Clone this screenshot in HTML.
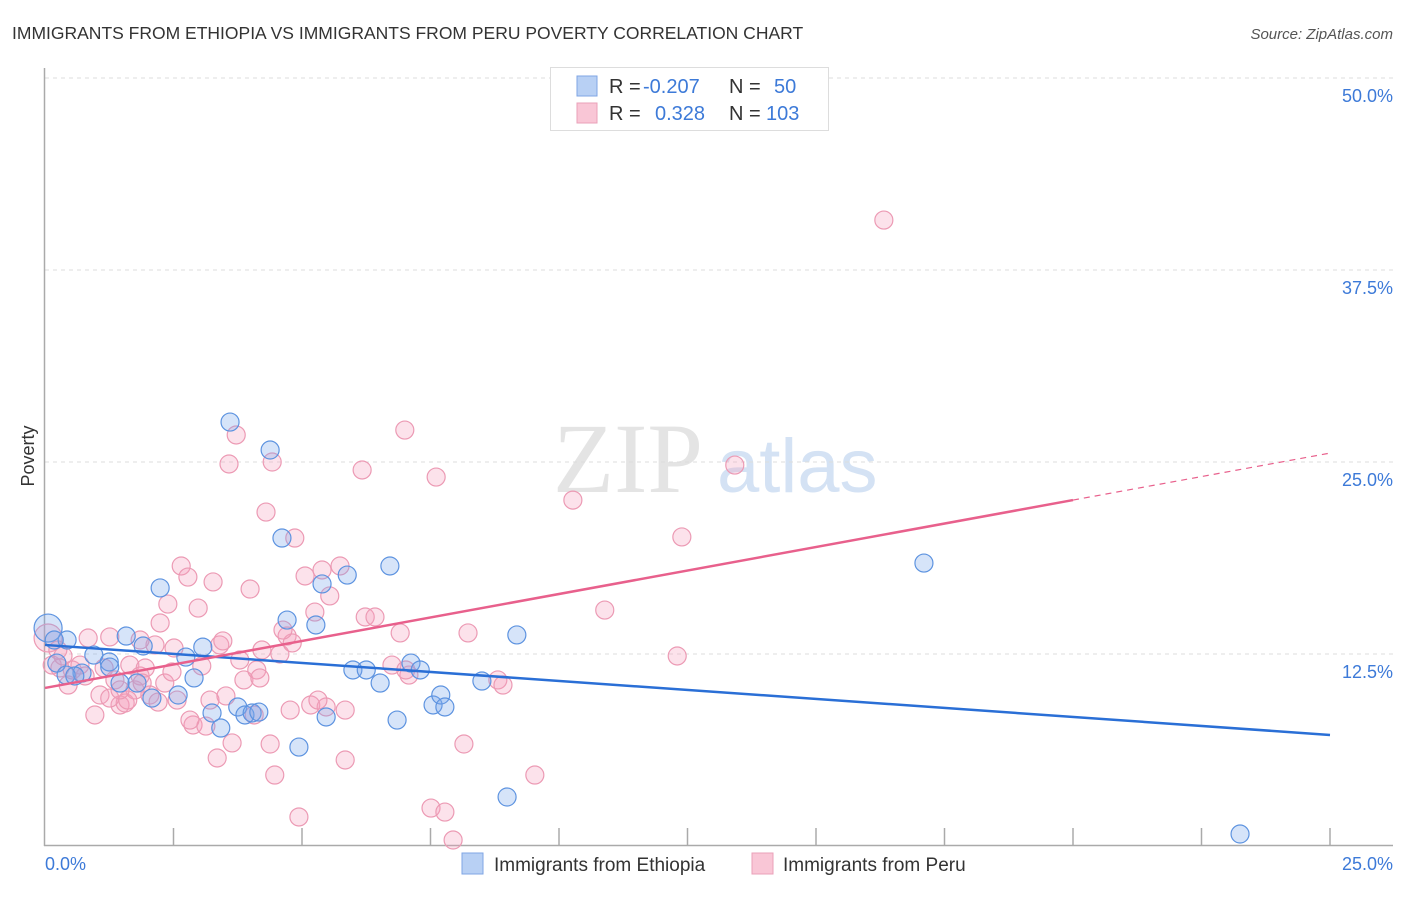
<!DOCTYPE html>
<html><head><meta charset="utf-8"><style>
body{margin:0;background:#fff;width:1406px;height:892px;overflow:hidden;font-family:"Liberation Sans",sans-serif}
</style></head><body>
<svg width="1406" height="892" xmlns="http://www.w3.org/2000/svg" id="chart">
<text x="12" y="39" font-size="17.5" fill="#333">IMMIGRANTS FROM ETHIOPIA VS IMMIGRANTS FROM PERU POVERTY CORRELATION CHART</text>
<text x="1393" y="39" font-size="15" font-style="italic" fill="#555" text-anchor="end">Source: ZipAtlas.com</text>
<g>
<text x="553" y="492" font-size="100" font-family="Liberation Serif,serif" fill="#e4e4e4">ZIP</text>
<text x="717" y="492" font-size="76" fill="#d4e2f4">atlas</text>
</g>
<text transform="translate(34,456) rotate(-90)" font-size="18" fill="#333" text-anchor="middle">Poverty</text>
<g id="grid"></g>
<g id="marks"></g>
<g>
<rect x="550.5" y="67.5" width="278" height="63" fill="#fff" stroke="#ddd"/>
<rect x="577" y="76" width="20" height="20" fill="#b8d0f4" stroke="#7fa6e4"/>
<rect x="577" y="103" width="20" height="20" fill="#f9c6d6" stroke="#eaa0b8"/>
<text x="609" y="93" font-size="20" fill="#333">R =</text>
<text x="643" y="93" font-size="20" fill="#3d7ad8">-0.207</text>
<text x="729" y="93" font-size="20" fill="#333">N =</text>
<text x="774" y="93" font-size="20" fill="#3d7ad8">50</text>
<text x="609" y="120" font-size="20" fill="#333">R =</text>
<text x="655" y="120" font-size="20" fill="#3d7ad8">0.328</text>
<text x="729" y="120" font-size="20" fill="#333">N =</text>
<text x="766" y="120" font-size="20" fill="#3d7ad8">103</text>
</g>
<g>
<rect x="462" y="853" width="21" height="21" fill="#b8d0f4" stroke="#7fa6e4"/>
<text x="494" y="871" font-size="19" fill="#333">Immigrants from Ethiopia</text>
<rect x="752" y="853" width="21" height="21" fill="#f9c6d6" stroke="#eaa0b8"/>
<text x="783" y="871" font-size="19" fill="#333">Immigrants from Peru</text>
</g>
</svg>
<script>
const yTicks=[12.5,25.0,37.5,50.0];
const xTickLabels=["0.0%","25.0%"];
const ethX=[0.06,0.43,0.23,0.72,0.95,1.25,1.58,1.91,1.79,2.08,2.24,2.59,2.74,2.90,3.07,3.25,3.42,3.60,3.75,3.89,4.03,4.16,4.38,4.61,4.71,4.94,5.27,5.39,5.47,5.88,5.99,6.25,6.52,6.71,6.85,7.12,7.30,7.55,7.70,7.78,8.50,8.99,9.18,17.10,23.25,0.41,0.58,0.18,1.26,1.46];
const ethY=[14.19,13.41,11.91,11.26,12.43,11.98,13.67,13.02,10.61,9.63,16.80,9.83,12.30,10.94,12.95,8.66,7.68,27.60,9.05,8.53,8.66,8.72,25.78,20.05,14.71,6.44,14.39,17.06,8.40,17.64,11.46,11.46,10.61,18.23,8.20,11.91,11.46,9.18,9.83,9.05,10.74,3.19,13.74,18.42,0.78,11.13,11.07,13.41,11.65,10.61];
const peruX=[0.06,0.14,0.29,0.45,0.53,0.68,0.84,0.97,1.07,1.15,1.26,1.36,1.46,1.56,1.65,1.75,1.85,1.95,2.04,2.14,2.24,2.33,2.39,2.47,2.57,2.65,2.78,2.88,2.98,3.05,3.13,3.21,3.27,3.35,3.40,3.46,3.52,3.64,3.72,3.58,3.79,3.87,3.99,4.07,4.12,4.18,4.30,4.38,4.42,4.47,4.57,4.71,4.77,4.81,4.86,4.94,5.06,5.17,5.25,5.39,5.47,5.54,5.74,5.84,5.84,6.17,6.23,6.42,6.75,6.91,7.00,7.08,7.02,7.51,7.61,7.78,7.94,8.15,8.23,8.81,8.91,9.53,10.27,10.89,12.30,12.39,13.42,16.32,0.25,0.35,0.78,1.61,1.89,2.20,2.51,2.82,4.22,4.63,5.31,1.85,1.26,1.46];
const peruY=[13.54,11.78,11.59,10.48,11.46,11.78,13.54,8.53,9.83,11.59,13.61,10.81,9.18,9.31,11.78,10.16,11.07,11.59,9.83,13.09,14.52,10.61,15.75,11.33,9.50,18.23,17.51,7.88,15.49,11.72,7.81,9.50,17.19,5.73,13.09,13.35,9.77,6.71,26.76,24.87,12.11,10.81,16.73,8.53,11.46,10.94,21.74,6.64,25.00,4.62,12.50,13.67,8.85,13.22,20.05,1.89,17.58,9.18,15.23,17.97,9.05,16.28,18.23,8.85,5.60,24.48,14.91,14.91,11.78,13.87,27.08,11.13,11.46,2.47,24.02,2.21,0.39,6.64,13.87,10.81,10.48,4.62,22.52,15.36,12.37,20.12,24.80,40.75,12.76,12.37,11.07,9.50,10.61,9.37,12.89,8.20,12.76,14.06,9.50,13.41,9.63,10.16];
const ethTrend=[13.09,7.23];
const peruTrend=[10.29,25.58];
const peruSolidEnd=20.0;
const X0=45,X1=1330,Y0=846,PXPER=192/12.5;
const sx=v=>X0+(v/25)*(X1-X0);
const sy=v=>Y0-v*PXPER;
const NS="http://www.w3.org/2000/svg";
const grid=document.getElementById('grid'),marks=document.getElementById('marks');
function mk(tag,attrs,parent){const e=document.createElementNS(NS,tag);for(const k in attrs)e.setAttribute(k,attrs[k]);parent.appendChild(e);return e;}
yTicks.forEach(t=>{
 const l=mk('line',{x1:45,x2:1393,y1:sy(t),y2:sy(t),stroke:'#ddd','stroke-dasharray':'4,4'},grid);
 
 
 const tx=mk('text',{x:1393,y:sy(t)+24,'font-size':18,fill:'#3d7ad8','text-anchor':'end'},grid);
 tx.textContent=t.toFixed(1)+'%';
 
 
});
const ax=mk('line',{x1:44.5,x2:44.5,y1:68,y2:846,stroke:'#aaa','stroke-width':1.5},grid);


const bx=mk('line',{x1:44,x2:1393,y1:845.5,y2:845.5,stroke:'#aaa','stroke-width':1.5},grid);


for(let i=1;i<=10;i++){
 const tk=mk('line',{x1:sx(i*2.5),x2:sx(i*2.5),y1:828,y2:846,stroke:'#aaa','stroke-width':1.5},grid);
 
 
}
const xl0=mk('text',{x:45,y:870,'font-size':18,fill:'#3d7ad8'},grid);xl0.textContent=xTickLabels[0];


const xl1=mk('text',{x:1393,y:870,'font-size':18,fill:'#3d7ad8','text-anchor':'end'},grid);xl1.textContent=xTickLabels[1];


function pts(xs,ys,fill,stroke,name){
 xs.forEach((x,i)=>{
  const c=mk('circle',{cx:sx(x),cy:sy(ys[i]),r:i===0?14:9,fill:fill,stroke:stroke,'stroke-width':1.2},marks);
  
  
 });
}
pts(peruX,peruY,'rgba(244,160,188,0.3)','#ec9ab4','peru-point');
pts(ethX,ethY,'rgba(120,165,235,0.3)','#5d93e0','ethiopia-point');
const bl=mk('line',{x1:sx(0),y1:sy(ethTrend[0]),x2:sx(25),y2:sy(ethTrend[1]),stroke:'#2a6fd6','stroke-width':2.5},marks);


const pAt=v=>peruTrend[0]+(peruTrend[1]-peruTrend[0])*v/25;
const pl=mk('line',{x1:sx(0),y1:sy(pAt(0)),x2:sx(peruSolidEnd),y2:sy(pAt(peruSolidEnd)),stroke:'#e8608c','stroke-width':2.5},marks);


const pd=mk('line',{x1:sx(peruSolidEnd),y1:sy(pAt(peruSolidEnd)),x2:sx(25),y2:sy(pAt(25)),stroke:'#e8608c','stroke-width':1.2,'stroke-dasharray':'6,5'},marks);


</script>
</body></html>
